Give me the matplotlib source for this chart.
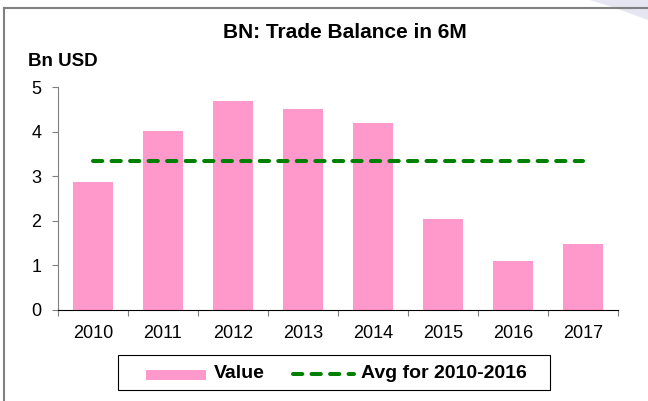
import matplotlib.pyplot as plt
from matplotlib.patches import Polygon, Rectangle
from matplotlib.lines import Line2D

plt.rcParams["font.family"] = ["Liberation Sans", "DejaVu Sans"]

# data
years = ["2010", "2011", "2012", "2013", "2014", "2015", "2016", "2017"]
values = [2.88, 4.02, 4.69, 4.51, 4.20, 2.05, 1.09, 1.47]
avg_2010_2016 = sum(values[:7]) / 7

bar_color = "#FF99CC"
line_color = "#008000"

fig = plt.figure(figsize=(6.48, 4.01), dpi=100)

# outer frame (chart is cropped on the right / bottom)
fig.add_artist(Line2D([4 / 648, 4 / 648], [0, 1 - 8 / 401], transform=fig.transFigure,
                      color="#808080", lw=1.5))
fig.add_artist(Line2D([4 / 648, 1], [1 - 8 / 401, 1 - 8 / 401], transform=fig.transFigure,
                      color="#808080", lw=1.5))
fig.add_artist(Polygon([[590 / 648, 1], [1, 1], [1, 1 - 20 / 401], [615 / 648, 1 - 8 / 401]],
                       closed=True, transform=fig.transFigure, facecolor="#E6E6F2",
                       edgecolor="none", zorder=0))

ax = fig.add_axes([58 / 648, 1 - 310 / 401, 560 / 648, 223 / 401])
x = list(range(len(years)))
ax.bar(x, values, width=0.585, color=bar_color, zorder=2)
ax.plot([0, 7], [avg_2010_2016] * 2, color=line_color, lw=2.9,
        dashes=(2.3, 2.3), dash_capstyle="round", zorder=3)

ax.set_xlim(-0.5, 7.5)
ax.set_ylim(0, 5)
ax.set_yticks(range(6))
ax.set_xticks([i - 0.5 for i in range(len(years) + 1)])
ax.set_xticklabels([])
ax.set_xticks(x, minor=True)
ax.set_xticklabels(years, minor=True)
ax.tick_params(axis="x", which="major", direction="out", length=4, color="#808080")
ax.tick_params(axis="x", which="minor", length=0, pad=11, labelsize=13)
ax.tick_params(axis="y", direction="out", length=4, color="#808080", labelsize=13, pad=8)
for s in ["top", "right"]:
    ax.spines[s].set_visible(False)
ax.spines["left"].set_color("#808080")
ax.spines["bottom"].set_color("black")

fig.text(345 / 648, 1 - 33 / 401, "BN: Trade Balance in 6M", ha="center", va="center",
         fontsize=15, fontweight="bold")
fig.text(28 / 648, 1 - 62 / 401, "Bn USD", ha="left", va="center",
         fontsize=13.5, fontweight="bold")

# legend box
fig.add_artist(Rectangle((118 / 648, 1 - 390 / 401), 432 / 648, 35 / 401,
                         transform=fig.transFigure, facecolor="white",
                         edgecolor="black", lw=0.8))
fig.add_artist(Rectangle((146 / 648, 1 - 380 / 401), 60 / 648, 10 / 401,
                         transform=fig.transFigure, facecolor=bar_color, edgecolor="none"))
fig.text(214 / 648, 1 - 374 / 401, "Value", ha="left", va="center",
         fontsize=14, fontweight="bold")
fig.add_artist(Line2D([293 / 648, 354 / 648], [1 - 374 / 401] * 2, transform=fig.transFigure,
                      color=line_color, lw=2.9, dashes=(2.3, 2.3), dash_capstyle="round"))
fig.text(361 / 648, 1 - 374 / 401, "Avg for 2010-2016", ha="left", va="center",
         fontsize=14, fontweight="bold")

fig.savefig("out.png", dpi=100)
